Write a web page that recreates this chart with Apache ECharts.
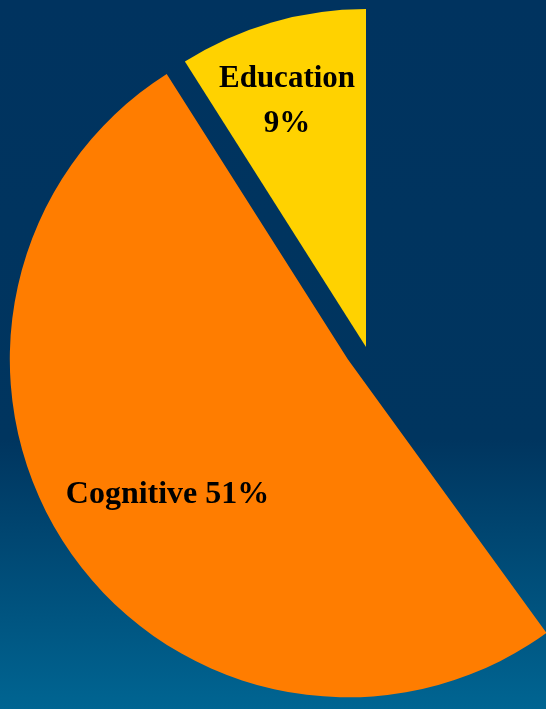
<!DOCTYPE html>
<html>
<head>
<meta charset="utf-8">
<script src="https://cdn.jsdelivr.net/npm/echarts@6/dist/echarts.min.js"></script>
<style>
  html, body { margin: 0; padding: 0; background: #00335f; }
  #chart { width: 546px; height: 709px; }
</style>
</head>
<body>
<div id="chart"></div>
<script>
// Share of each area, in percent (the remainder is left unlabelled)
const categories = ['Education', 'Cognitive', 'Other'];
const shares = [9, 51, 40];
const sliceColors = ['#ffd200', '#ff7d00', 'rgba(0,0,0,0)'];
const exploded = 'Cognitive';

const chart = echarts.init(document.getElementById('chart'), null, { renderer: 'canvas' });

const CENTER = [366, 347];
const RADIUS = 338;
const EXPLODE = 22;

const labelFont = {
  color: '#000',
  fontFamily: '"Liberation Serif", "Times New Roman", serif',
  fontWeight: 'bold'
};

const labels = {
  Education: Object.assign({ show: true, position: 'inside', formatter: '{b}\n{d}%',
    fontSize: 31, lineHeight: 45, align: 'center', offset: [-31, -80] }, labelFont),
  Cognitive: Object.assign({ show: true, position: 'inside', formatter: '{b} {d}%',
    fontSize: 32, offset: [-38, 39] }, labelFont)
};

// Direction of the pulled-out slice: its mid angle, counter-clockwise from 12 o'clock
const total = shares.reduce((a, b) => a + b, 0);
const idx = categories.indexOf(exploded);
const before = shares.slice(0, idx).reduce((a, b) => a + b, 0);
const midDeg = 90 + (before + shares[idx] / 2) / total * 360;
const shift = [Math.cos(midDeg * Math.PI / 180) * EXPLODE, -Math.sin(midDeg * Math.PI / 180) * EXPLODE];

// One pie layer per group: slices outside the layer are left see-through
function layer(visibleNames, center) {
  return {
    type: 'pie',
    center: center,
    radius: RADIUS,
    startAngle: 90,
    clockwise: false,
    avoidLabelOverlap: false,
    emphasis: { disabled: true },
    labelLine: { show: false },
    data: categories.map((name, i) => {
      const on = visibleNames.indexOf(name) >= 0 && sliceColors[i] !== 'rgba(0,0,0,0)';
      return {
        name: name,
        value: shares[i],
        itemStyle: { color: on ? sliceColors[i] : 'rgba(0,0,0,0)' },
        label: on && labels[name] ? labels[name] : { show: false }
      };
    })
  };
}

chart.setOption({
  animation: false,
  backgroundColor: {
    type: 'linear', x: 0, y: 0, x2: 0, y2: 1,
    colorStops: [
      { offset: 0, color: '#00335f' },
      { offset: 0.62, color: '#00355f' },
      { offset: 1, color: '#006592' }
    ]
  },
  series: [
    layer(categories.filter(n => n !== exploded), CENTER),
    layer([exploded], [CENTER[0] + shift[0], CENTER[1] + shift[1]])
  ]
});
</script>
</body>
</html>
